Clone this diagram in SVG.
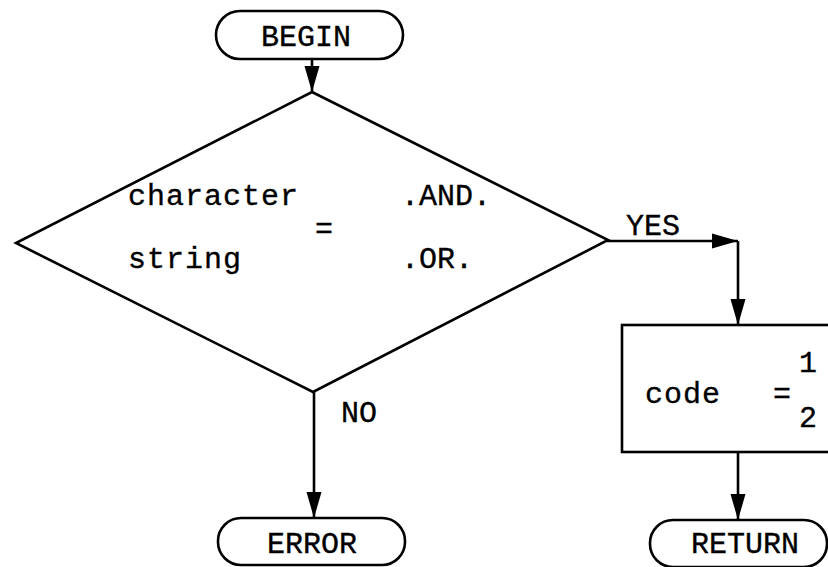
<svg xmlns="http://www.w3.org/2000/svg" width="828" height="567" viewBox="0 0 828 567">
<style>
.s{fill:none;stroke:#000;stroke-width:2.6;stroke-linejoin:miter}
.t{font-family:"Liberation Mono","Courier New",monospace;font-size:30px;fill:#000;stroke:#000;stroke-width:0.35}
.lc{letter-spacing:1px}
.uc{letter-spacing:0px}
.c{text-anchor:middle}
</style>
<defs>
<marker id="ah" markerUnits="userSpaceOnUse" markerWidth="28" markerHeight="18" refX="26" refY="9" orient="auto">
<path d="M0 1.5 L26 9 L0 16.5 Z" fill="#000"/>
</marker>
</defs>
<rect width="828" height="567" fill="#fff"/>
<g id="begin">
<rect class="s" x="216" y="11" width="187" height="48" rx="24"/>
<text class="t uc c" x="306" y="46">BEGIN</text>
</g>
<g id="decision">
<polygon class="s" points="312,92 608,240 313,392 16,243"/>
<text class="t lc" x="128" y="205">character</text>
<text class="t lc" x="128" y="268">string</text>
<text class="t c" x="324" y="238">=</text>
<text class="t uc" x="401" y="205">.AND.</text>
<text class="t uc" x="401" y="268">.OR.</text>
</g>
<g id="assign">
<rect class="s" x="622" y="325" width="210" height="127"/>
<text class="t lc" x="645" y="403">code</text>
<text class="t c" x="782" y="403">=</text>
<text class="t" x="799" y="372">1</text>
<text class="t" x="799" y="427">2</text>
</g>
<g id="error">
<rect class="s" x="218" y="518" width="187" height="47" rx="23"/>
<text class="t uc c" x="312" y="553">ERROR</text>
</g>
<g id="return">
<rect class="s" x="650" y="520" width="177" height="47" rx="23"/>
<text class="t uc c" x="745" y="553">RETURN</text>
</g>
<g id="connectors">
<path class="s" d="M312 59 L312 92" marker-end="url(#ah)"/>
<path class="s" d="M607 241 L738 241" marker-end="url(#ah)"/>
<path class="s" d="M738 241 L738 325" marker-end="url(#ah)"/>
<path class="s" d="M738 452 L738 520" marker-end="url(#ah)"/>
<path class="s" d="M314 392 L314 518" marker-end="url(#ah)"/>
<text class="t uc" x="626" y="235">YES</text>
<text class="t uc" x="341" y="422">NO</text>
</g>
</svg>
